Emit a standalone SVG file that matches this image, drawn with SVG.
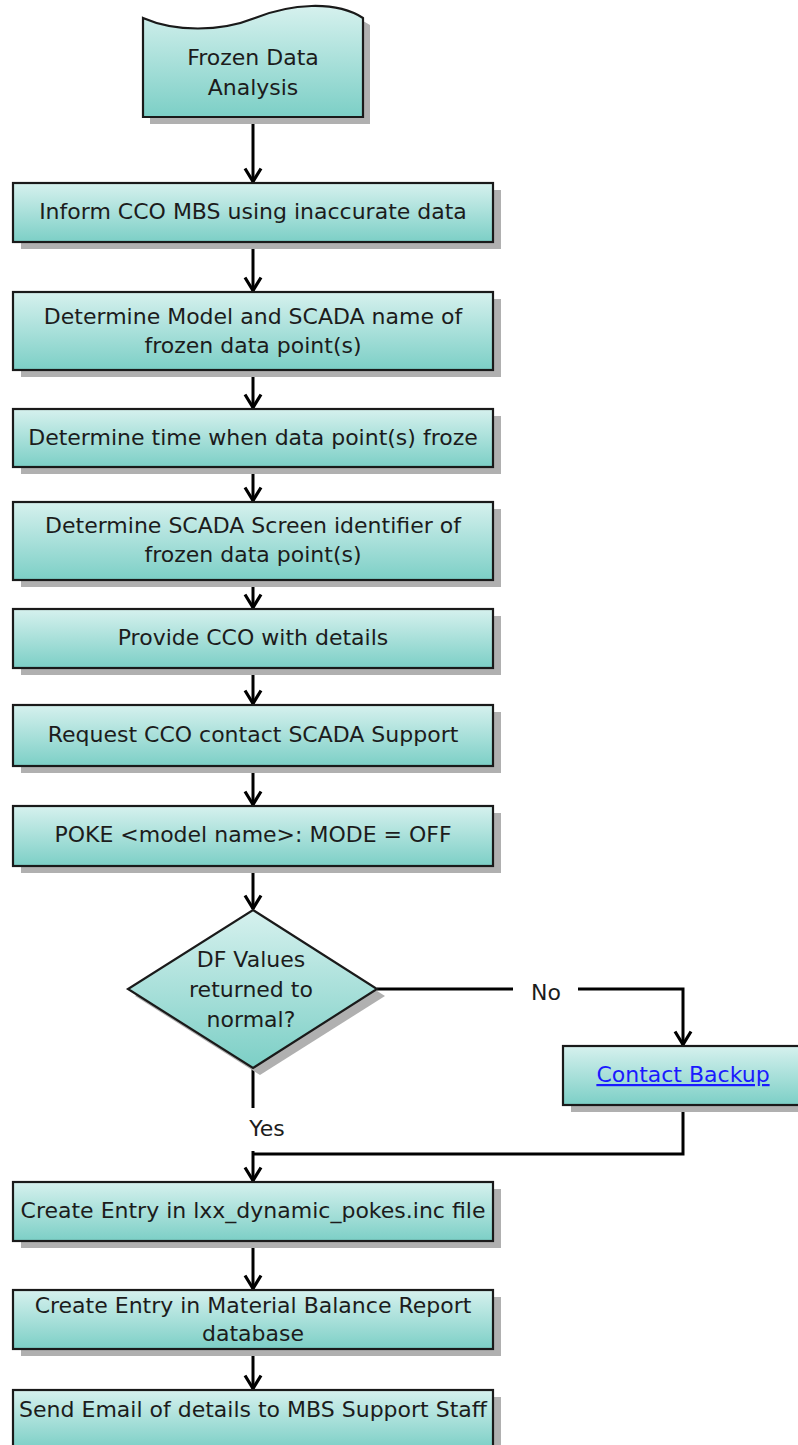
<svg xmlns="http://www.w3.org/2000/svg" width="798" height="1445" viewBox="0 0 798 1445">
  <defs>
    <linearGradient id="fill" x1="0" y1="0" x2="0" y2="1">
      <stop offset="0" stop-color="#d6f1ee"/>
      <stop offset="1" stop-color="#7ccfc6"/>
    </linearGradient>
    <marker id="arrowDown" viewBox="0 0 20 16" refX="10" refY="15" markerWidth="20" markerHeight="16" markerUnits="userSpaceOnUse" orient="0">
      <path d="M2,1.5 L10,14.5 L18,1.5" fill="none" stroke="#000" stroke-width="3.2"/>
    </marker>
  </defs>
  <style>
    .shadow { fill: #b0b0b0; }
    .shape { fill: url(#fill); stroke: #1a1a1a; stroke-width: 2.2; }
    .label { font-family: "DejaVu Sans", Verdana, sans-serif; font-size: 22px; fill: #1c1c1c; text-anchor: middle; }
    .link { font-family: "DejaVu Sans", Verdana, sans-serif; font-size: 22px; fill: #1a1aff; text-anchor: middle; text-decoration: underline; }
    .edge { fill: none; stroke: #000; stroke-width: 3; }
    .tag { font-family: "DejaVu Sans", Verdana, sans-serif; font-size: 22px; fill: #1c1c1c; text-anchor: middle; }
  </style>
  <rect width="798" height="1445" fill="#ffffff"/>

  <!-- connectors -->
  <g id="connectors">
    <line class="edge" x1="253" y1="117" x2="253" y2="182" marker-end="url(#arrowDown)"/>
    <line class="edge" x1="253" y1="242" x2="253" y2="291" marker-end="url(#arrowDown)"/>
    <line class="edge" x1="253" y1="370" x2="253" y2="408" marker-end="url(#arrowDown)"/>
    <line class="edge" x1="253" y1="467" x2="253" y2="501" marker-end="url(#arrowDown)"/>
    <line class="edge" x1="253" y1="580" x2="253" y2="608" marker-end="url(#arrowDown)"/>
    <line class="edge" x1="253" y1="668" x2="253" y2="704" marker-end="url(#arrowDown)"/>
    <line class="edge" x1="253" y1="766" x2="253" y2="805" marker-end="url(#arrowDown)"/>
    <line class="edge" x1="253" y1="866" x2="253" y2="909" marker-end="url(#arrowDown)"/>
    <!-- No branch -->
    <polyline class="edge" points="377,989 513,989"/>
    <polyline class="edge" points="578,989 683,989 683,1045" marker-end="url(#arrowDown)"/>
    <text class="tag" x="546" y="1000">No</text>
    <!-- Yes branch -->
    <line class="edge" x1="253" y1="1068" x2="253" y2="1108"/>
    <text class="tag" x="267" y="1136">Yes</text>
    <!-- merge into next step -->
    <polyline class="edge" points="683,1105 683,1154 253,1154"/>
    <line class="edge" x1="253" y1="1151" x2="253" y2="1181" marker-end="url(#arrowDown)"/>
    <line class="edge" x1="253" y1="1241" x2="253" y2="1289" marker-end="url(#arrowDown)"/>
    <line class="edge" x1="253" y1="1349" x2="253" y2="1389" marker-end="url(#arrowDown)"/>
  </g>

  <!-- start: document shape -->
  <g id="start">
    <path class="shadow" d="M150,25 C182,39 227,39 262,25 C297,11 342,7 370,25 L370,124 L150,124 Z"/>
    <path class="shape" d="M143,18 C175,32 220,32 255,18 C290,4 335,0 363,18 L363,117 L143,117 Z"/>
    <text class="label" x="253" y="65">Frozen Data</text>
    <text class="label" x="253" y="95">Analysis</text>
  </g>

  <g id="inform">
    <rect class="shadow" x="21" y="190" width="480" height="59"/>
    <rect class="shape" x="13" y="183" width="480" height="59"/>
    <text class="label" x="253" y="219">Inform CCO MBS using inaccurate data</text>
  </g>

  <g id="model-name">
    <rect class="shadow" x="21" y="299" width="480" height="78"/>
    <rect class="shape" x="13" y="292" width="480" height="78"/>
    <text class="label" x="253" y="324">Determine Model and SCADA name of</text>
    <text class="label" x="253" y="353">frozen data point(s)</text>
  </g>

  <g id="freeze-time">
    <rect class="shadow" x="21" y="416" width="480" height="58"/>
    <rect class="shape" x="13" y="409" width="480" height="58"/>
    <text class="label" x="253" y="445">Determine time when data point(s) froze</text>
  </g>

  <g id="screen-id">
    <rect class="shadow" x="21" y="509" width="480" height="78"/>
    <rect class="shape" x="13" y="502" width="480" height="78"/>
    <text class="label" x="253" y="533">Determine SCADA Screen identifier of</text>
    <text class="label" x="253" y="562">frozen data point(s)</text>
  </g>

  <g id="provide-details">
    <rect class="shadow" x="21" y="616" width="480" height="59"/>
    <rect class="shape" x="13" y="609" width="480" height="59"/>
    <text class="label" x="253" y="645">Provide CCO with details</text>
  </g>

  <g id="request-support">
    <rect class="shadow" x="21" y="712" width="480" height="61"/>
    <rect class="shape" x="13" y="705" width="480" height="61"/>
    <text class="label" x="253" y="742">Request CCO contact SCADA Support</text>
  </g>

  <g id="poke">
    <rect class="shadow" x="21" y="813" width="480" height="60"/>
    <rect class="shape" x="13" y="806" width="480" height="60"/>
    <text class="label" x="253" y="842">POKE &lt;model name&gt;: MODE = OFF</text>
  </g>

  <g id="decision">
    <polygon class="shadow" points="260,917 385,996 260,1075 135,996"/>
    <polygon class="shape" points="253,910 377,989 253,1068 128,989"/>
    <text class="label" x="251" y="967">DF Values</text>
    <text class="label" x="251" y="997">returned to</text>
    <text class="label" x="251" y="1027">normal?</text>
  </g>

  <g id="contact-backup">
    <rect class="shadow" x="571" y="1053" width="240" height="59"/>
    <rect class="shape" x="563" y="1046" width="240" height="59"/>
    <text class="link" x="683" y="1082">Contact Backup</text>
  </g>

  <g id="dynamic-pokes">
    <rect class="shadow" x="21" y="1189" width="480" height="59"/>
    <rect class="shape" x="13" y="1182" width="480" height="59"/>
    <text class="label" x="253" y="1218">Create Entry in lxx_dynamic_pokes.inc file</text>
  </g>

  <g id="balance-report">
    <rect class="shadow" x="21" y="1297" width="480" height="59"/>
    <rect class="shape" x="13" y="1290" width="480" height="59"/>
    <text class="label" x="253" y="1313">Create Entry in Material Balance Report</text>
    <text class="label" x="253" y="1341">database</text>
  </g>

  <g id="send-email">
    <rect class="shadow" x="21" y="1397" width="480" height="59"/>
    <rect class="shape" x="13" y="1390" width="480" height="59"/>
    <text class="label" x="253" y="1417">Send Email of details to MBS Support Staff</text>
  </g>
</svg>
